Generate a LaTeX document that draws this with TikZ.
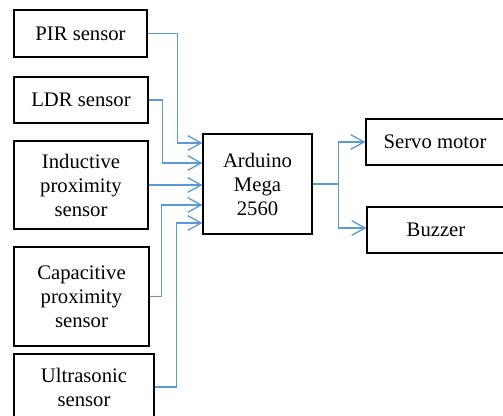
\documentclass[tikz,border=0pt]{standalone}
\usepackage{fontspec}
\setmainfont{Liberation Serif}
\usetikzlibrary{arrows.meta,calc}
\definecolor{wireblue}{HTML}{5B9BD5}
\newcommand{\px}{0.75pt}
\tikzset{
  blk/.style={draw, line width=0.8pt, align=center, inner sep=0pt,
    font=\fontsize{15.5}{18}\selectfont},
  link/.style={draw=wireblue, line width=1pt,
    -{Straight Barb[length=10pt, width=11pt, line width=1pt]}},
}
\begin{document}
\begin{tikzpicture}[x=\px, y=-\px]
\useasboundingbox (0,0) rectangle (503,416);
\clip (0,0) rectangle (503,416);
\node [blk, minimum width=133*\px, minimum height=47*\px] (s1) at (80.5,33.5) {PIR sensor};
\node [blk, minimum width=134*\px, minimum height=46*\px] (s2) at (81,100) {LDR sensor};
\node [blk, minimum width=134*\px, minimum height=88*\px] (s3) at (81,185) {Inductive\\proximity\\sensor};
\node [blk, minimum width=135*\px, minimum height=99*\px] (s4) at (81.5,296.5) {Capacitive\\proximity\\sensor};
\node [blk, minimum width=140*\px, minimum height=66*\px] (s5) at (84,387) {Ultrasonic\\sensor};

\node [blk, minimum width=109*\px, minimum height=100*\px] (m1) at (257.5,184) {Arduino\\Mega\\2560};

\node [blk, minimum width=138*\px, minimum height=46*\px] (o1) at (435,142) {Servo motor};
\node [blk, minimum width=138*\px, minimum height=46*\px] (o2) at (436,230) {Buzzer};

\draw [link] (s1.east) -- ++(30,0) |- ($(m1.west)+(0,-41)$);
\draw [link] (s2.east) -- ++(14,0) |- ($(m1.west)+(0,-21)$);
\draw [link] (s3.east) -- (s3.east -| m1.west);
\draw [link] (s4.east) -- ++(12,0) |- ($(m1.west)+(0,21)$);
\draw [link] (s5.east) -- ++(22,0) |- ($(m1.west)+(0,39)$);
\draw [link] (m1.east) -- ++(26,0) |- (o1.west);
\draw [link] (m1.east) -- ++(26,0) |- ($(o2.west)+(0,-2)$);
\end{tikzpicture}
\end{document}
